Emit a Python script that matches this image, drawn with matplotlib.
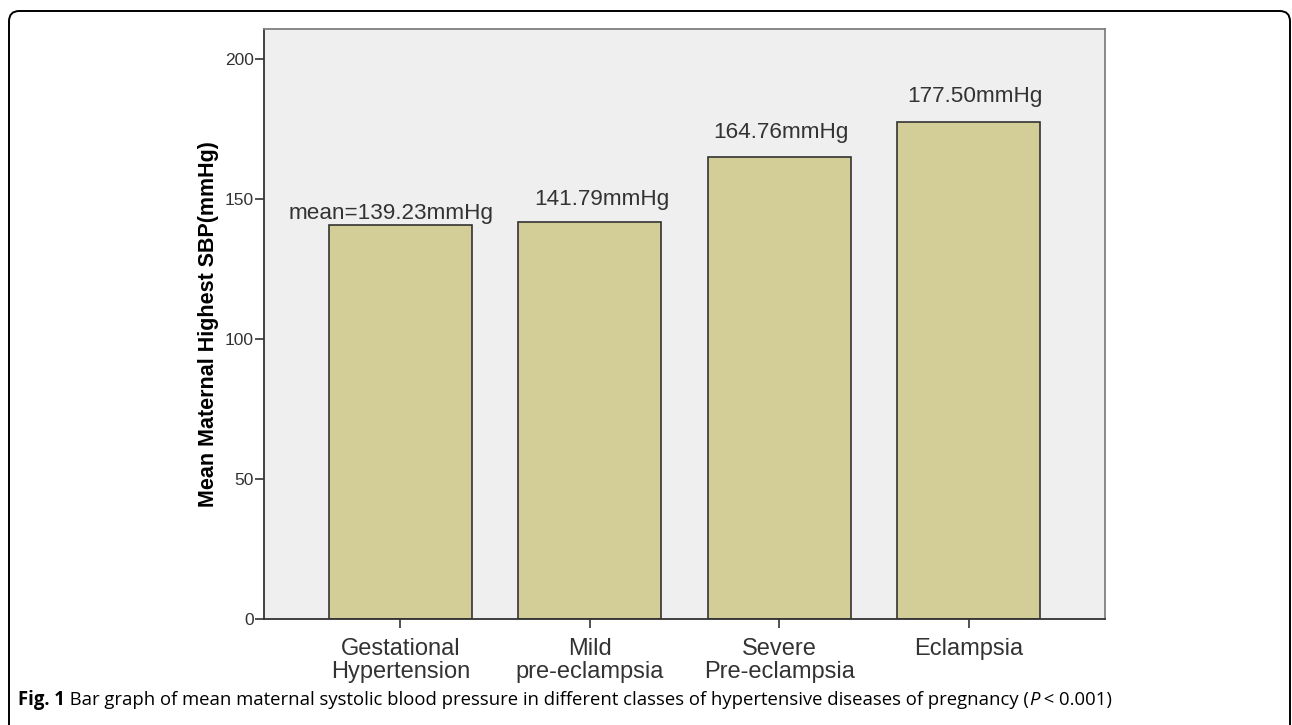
import matplotlib.pyplot as plt
import numpy as np
from matplotlib.patches import FancyBboxPatch

plt.rcParams['font.family'] = ['Liberation Sans', 'DejaVu Sans']

# data
categories = ['Gestational\nHypertension', 'Mild\npre-eclampsia', 'Severe\nPre-eclampsia', 'Eclampsia']
bar_heights = [140.7, 141.8, 165.0, 177.5]
bar_labels = ['mean=139.23mmHg', '141.79mmHg', '164.76mmHg', '177.50mmHg']
y_ticks = [0, 50, 100, 150, 200]
caption_bold = 'Fig. 1'
caption_text = ' Bar graph of mean maternal systolic blood pressure in different classes of hypertensive diseases of pregnancy ('
caption_p = 'P'
caption_end = ' < 0.001)'

bar_color = (211 / 255, 206 / 255, 152 / 255)
bg_color = (239 / 255, 239 / 255, 239 / 255)
dark = (0.2, 0.2, 0.2)

fig = plt.figure(figsize=(12.92, 7.25), dpi=100)

# rounded outer frame (open at the bottom, cut by the figure edge)
frame = FancyBboxPatch((9 / 1292, -0.2), (1290 - 9) / 1292, 1 - 11 / 725 + 0.2,
                       boxstyle='round,pad=0,rounding_size=0.008', transform=fig.transFigure,
                       facecolor='none', edgecolor='black', linewidth=1.4, mutation_aspect=1292 / 725)
fig.patches.append(frame)

ax = fig.add_axes([264 / 1292, 1 - 619 / 725, (1105 - 264) / 1292, (619 - 29) / 725])
ax.set_facecolor(bg_color)

x = np.arange(len(categories))
ax.bar(x, bar_heights, width=0.757, color=bar_color, edgecolor=dark, linewidth=1.2, zorder=2)

# value labels above the bars
label_dx = [-9, 12, 2, 6]   # pixels
label_dy = [12, 22, 24, 25]  # pixels
for i, (h, txt) in enumerate(zip(bar_heights, bar_labels)):
    ax.annotate(txt, xy=(x[i], h), xytext=(label_dx[i] * 0.72, label_dy[i] * 0.72),
                textcoords='offset points', ha='center', va='center',
                fontsize=16.2, color=dark)

ax.set_xlim(-0.72, 3.72)
ax.set_ylim(0, 210.7)
ax.set_yticks(y_ticks)
ax.set_yticklabels([str(t) for t in y_ticks])
ax.set_xticks(x)
ax.set_xticklabels(categories, fontsize=17, color=dark, linespacing=1.08)
ax.tick_params(axis='y', labelsize=12.5, labelcolor=dark, length=6.5, width=1.2, color=dark, pad=1)
ax.tick_params(axis='x', length=6.5, width=1.2, color=dark, pad=7)

for s in ['left', 'bottom']:
    ax.spines[s].set_color(dark)
    ax.spines[s].set_linewidth(1.3)
for s in ['top', 'right']:
    ax.spines[s].set_color((0.5, 0.5, 0.5))
    ax.spines[s].set_linewidth(1.3)

ax.set_ylabel('Mean Maternal Highest SBP(mmHg)', fontsize=15.5, fontweight='bold', color='black')
ax.yaxis.set_label_coords((219 - 264) / (1105 - 264), 0.5)

# caption
cap_font = ['Open Sans', 'DejaVu Sans']
cap_size = 13.35
cap_y = 1 - 700 / 725
t1 = fig.text(18 / 1292, cap_y, caption_bold, fontsize=cap_size, fontweight='bold',
              family=cap_font, va='center', ha='left')
fig.canvas.draw()
r = fig.canvas.get_renderer()
bb = t1.get_window_extent(r)
t2 = fig.text(bb.x1 / 1292, cap_y, caption_text, fontsize=cap_size, family=cap_font, va='center', ha='left')
bb = t2.get_window_extent(r)
t3 = fig.text(bb.x1 / 1292, cap_y, caption_p, fontsize=cap_size, family=cap_font, style='italic',
              va='center', ha='left')
bb = t3.get_window_extent(r)
fig.text(bb.x1 / 1292, cap_y, caption_end, fontsize=cap_size, family=cap_font, va='center', ha='left')

fig.savefig('out.png', dpi=100)
